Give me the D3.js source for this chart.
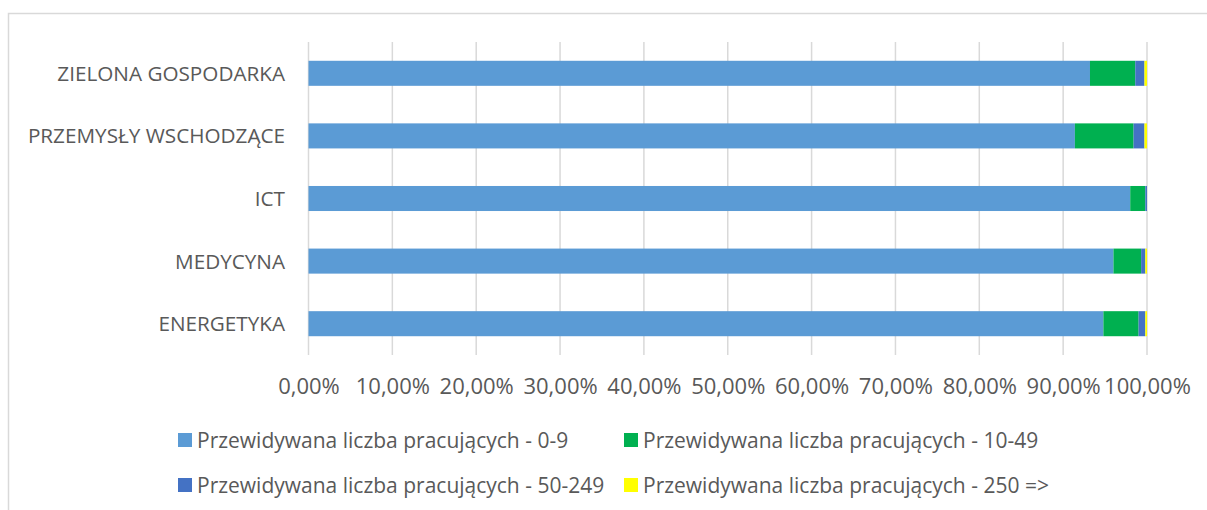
<!DOCTYPE html>
<html>
<head>
<meta charset="utf-8">
<script src="https://cdn.jsdelivr.net/npm/d3@7"></script>
<style>
  body { margin: 0; background: #fff; }
  svg text { font-family: "Open Sans", "Noto Sans", sans-serif; fill: #595959; }
</style>
</head>
<body>
<svg id="chart" width="1207" height="510"></svg>
<script>
// sectors, top to bottom
const categories = ['ZIELONA GOSPODARKA', 'PRZEMYSŁY WSCHODZĄCE', 'ICT', 'MEDYCYNA', 'ENERGETYKA'];

// share of firms by expected number of workers (%)
const size0to9 = [93.2, 91.4, 98.0, 96.0, 94.8];
const size10to49 = [5.4, 7.0, 1.8, 3.3, 4.2];
const size50to249 = [1.1, 1.3, 0.2, 0.5, 0.8];
const size250plus = [0.3, 0.3, 0.0, 0.2, 0.2];

const seriesNames = [
  'Przewidywana liczba pracujących - 0-9',
  'Przewidywana liczba pracujących - 10-49',
  'Przewidywana liczba pracujących - 50-249',
  'Przewidywana liczba pracujących - 250 =>'
];
const seriesColors = ['#5B9BD5', '#00B050', '#4472C4', '#FFFF00'];
const xTicks = [0, 10, 20, 30, 40, 50, 60, 70, 80, 90, 100];

const seriesValues = [size0to9, size10to49, size50to249, size250plus];
const rows = categories.map((c, i) => {
  const row = { category: c };
  seriesNames.forEach((s, j) => { row[s] = seriesValues[j][i]; });
  return row;
});

const svg = d3.select('#chart');

// outer chart frame (cut by the window on right and bottom)
svg.append('rect')
  .attr('x', 8.5).attr('y', 13.5)
  .attr('width', 1400).attr('height', 700)
  .attr('fill', 'none')
  .attr('stroke', '#D9D9D9')
  .attr('stroke-width', 1.5);

const xScale = d3.scaleLinear().domain([0, 100]).range([308.5, 1147]);
const yScale = d3.scaleBand()
  .domain(categories)
  .range([42, 355])
  .paddingInner(0.6)
  .paddingOuter(0.3);

// gridlines
svg.append('g')
  .selectAll('line')
  .data(xTicks)
  .enter().append('line')
  .attr('x1', d => xScale(d)).attr('x2', d => xScale(d))
  .attr('y1', 42).attr('y2', 355)
  .attr('stroke', '#D9D9D9')
  .attr('stroke-width', 1.5);

// stacked bars
const stacked = d3.stack().keys(seriesNames)(rows);

svg.append('g')
  .selectAll('g')
  .data(stacked)
  .enter().append('g')
  .attr('fill', (d, i) => seriesColors[i])
  .selectAll('rect')
  .data(d => d)
  .enter().append('rect')
  .attr('x', d => xScale(d[0]))
  .attr('width', d => Math.max(0, xScale(d[1]) - xScale(d[0])))
  .attr('y', d => yScale(d.data.category))
  .attr('height', yScale.bandwidth());

// x axis labels
const xAxis = d3.axisBottom(xScale)
  .tickValues(xTicks)
  .tickSize(0)
  .tickPadding(0)
  .tickFormat(d => d.toFixed(2).replace('.', ',') + '%');

const xg = svg.append('g')
  .attr('transform', 'translate(0,378)')
  .call(xAxis);
xg.select('.domain').remove();
xg.selectAll('text')
  .attr('font-size', 22)
  .attr('dy', '0.72em')
  .attr('font-family', null);

// y axis labels
const yAxis = d3.axisLeft(yScale).tickSize(0).tickPadding(0);
const yg = svg.append('g')
  .attr('transform', 'translate(285,0)')
  .call(yAxis);
yg.select('.domain').remove();
yg.selectAll('text')
  .attr('font-size', 20.7)
  .attr('dy', '0.36em')
  .attr('font-family', null);

// legend
const legendPos = [[178, 440], [624, 440], [178, 485], [624, 485]];
const legend = svg.append('g')
  .selectAll('g')
  .data(seriesNames)
  .enter().append('g')
  .attr('transform', (d, i) => `translate(${legendPos[i][0]},${legendPos[i][1]})`);

legend.append('rect')
  .attr('x', 0).attr('y', -7)
  .attr('width', 14).attr('height', 14)
  .attr('fill', (d, i) => seriesColors[i]);

legend.append('text')
  .attr('x', 19)
  .attr('dy', '0.36em')
  .attr('font-size', 21)
  .text(d => d);
</script>
</body>
</html>
